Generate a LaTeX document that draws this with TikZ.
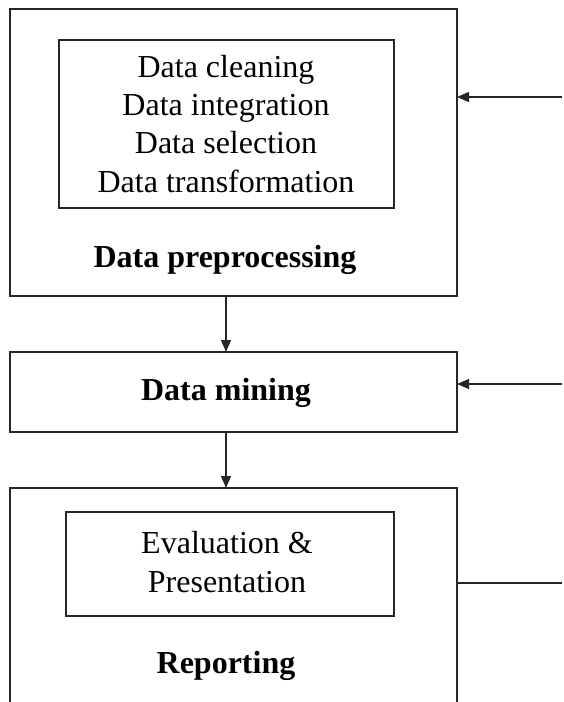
\documentclass[tikz,border=0pt]{standalone}
\usepackage{fontspec}
\setmainfont{Liberation Serif}
\usetikzlibrary{arrows.meta}
\begin{document}
\begin{tikzpicture}[x=1pt,y=-1pt,
  box/.style={draw=black!85,line width=1.1pt,minimum width=#1,inner sep=0pt,outer sep=0pt},
  txt/.style={font=\fontsize{32}{38.3}\selectfont,align=center,inner sep=0pt,anchor=base},
  btxt/.style={font=\fontsize{32}{38.3}\selectfont\bfseries,align=center,inner sep=0pt,anchor=base},
  conn/.style={draw=black!85,line width=1.1pt},
  arr/.style={conn,-{Triangle[length=12pt,width=10pt]}}]
\useasboundingbox (0,0) rectangle (564,702);
% boxes
\node[box=447pt,minimum height=287pt] (pre) at (233.5,152.5) {};
\node[box=335pt,minimum height=168pt] (inner) at (226.5,124) {};
\node[box=447pt,minimum height=80pt] (mine) at (233.5,392) {};
\node[box=328pt,minimum height=104pt] (evalbox) at (230,564) {};
\node[minimum width=447pt,minimum height=214pt,inner sep=0pt,outer sep=0pt] (rep) at (233.5,595) {};
\draw[conn] (rep.south west) -- (rep.north west) -- (rep.north east) -- (rep.south east);
% texts (multi-line nodes: base = last line)
\node[txt] (list) at (226,192) {Data cleaning\\Data integration\\Data selection\\Data transformation};
\node[btxt] (pretxt) at (225,267) {Data preprocessing};
\node[btxt] (minetxt) at (226,400) {Data mining};
\node[txt] (evaltxt) at (227,592) {Evaluation \&\\Presentation};
\node[btxt] (reptxt) at (226,673) {Reporting};
% vertical arrows
\coordinate (a1) at (226,296);
\draw[arr] (a1) -- (a1 |- mine.north);
\coordinate (a2) at (226,432);
\draw[arr] (a2) -- (a2 |- rep.north);
% right side connectors
\coordinate (r1) at (562,97);
\draw[arr] (r1) -- (r1 -| pre.east);
\coordinate (r2) at (562,384);
\draw[arr] (r2) -- (r2 -| mine.east);
\coordinate (r3) at (562,583);
\draw[conn] (r3) -- (r3 -| rep.east);
\end{tikzpicture}
\end{document}
